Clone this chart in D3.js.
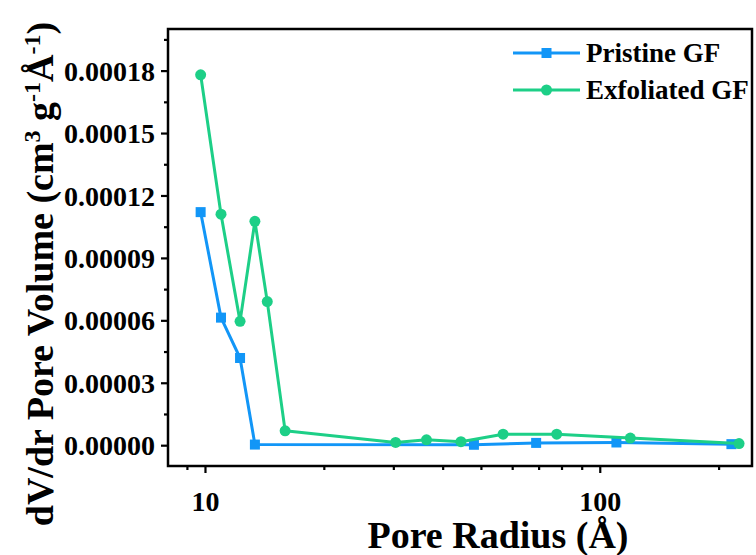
<!DOCTYPE html>
<html><head><meta charset="utf-8">
<script src="https://cdn.jsdelivr.net/npm/d3@7"></script>
<style>
html,body{margin:0;padding:0;background:#fff;}
svg{display:block;}
text{font-family:"Liberation Serif","Times New Roman",serif;font-weight:bold;fill:#000;}
</style></head>
<body>
<svg id="chart" width="756" height="555"></svg>
<script>
// Data
const pristineRadius = [9.75, 10.98, 12.27, 13.38, 48.0, 69.0, 110.2, 215.5];
const pristineValues = [0.000112, 0.0000613, 0.0000419, 0.0000003, 0.0000002, 0.0000011, 0.0000013, 0.0000005];
const exfoliatedRadius = [9.75, 10.98, 12.27, 13.38, 14.38, 15.96, 30.4, 36.4, 44.5, 56.9, 77.8, 119.5, 225.3];
const exfoliatedValues = [0.000178, 0.000111, 0.0000595, 0.0001076, 0.000069, 0.0000069, 0.0000013, 0.0000026, 0.0000017, 0.0000053, 0.0000053, 0.0000034, 0.0000008];
const yTickValues = [0, 0.00003, 0.00006, 0.00009, 0.00012, 0.00015, 0.00018];
const yMinorTicks = [0.000015, 0.000045, 0.000075, 0.000105, 0.000135, 0.000165, 0.000195];
const xTickValues = [10, 100];
const xMinorTicks = [9, 20, 30, 40, 50, 60, 70, 80, 90, 200];
const seriesNames = ["Pristine GF", "Exfoliated GF"];
const seriesColors = ["#1296f7", "#1dcf87"];

const svg = d3.select("#chart");
const L = 168, R = 752, T = 29, B = 466;

const x = d3.scaleLog().domain([8.06, 243]).range([L, R]);
const y = d3.scaleLinear().domain([-0.00001, 0.0002]).range([B, T]);

// frame
svg.append("rect").attr("x", L).attr("y", T).attr("width", R - L).attr("height", B - T)
  .attr("fill", "none").attr("stroke", "#000").attr("stroke-width", 2.5);

// y axis
const yAxis = d3.axisLeft(y).tickValues(yTickValues).tickFormat(d => d.toFixed(5)).tickSize(7).tickPadding(6);
const gy = svg.append("g").attr("transform", `translate(${L},0)`).call(yAxis);
gy.select(".domain").remove();
gy.selectAll(".tick line").attr("stroke-width", 2.2);
gy.selectAll(".tick text").style("font-size", "28px").attr("dy", "0.34em");
const gym = svg.append("g").attr("transform", `translate(${L},0)`)
  .call(d3.axisLeft(y).tickValues(yMinorTicks).tickSize(4).tickFormat(""));
gym.select(".domain").remove();
gym.selectAll(".tick line").attr("stroke-width", 2.2);

// x axis
const xAxis = d3.axisBottom(x).tickValues(xTickValues).tickFormat(d3.format("d")).tickSize(7).tickPadding(18);
const gx = svg.append("g").attr("transform", `translate(0,${B})`).call(xAxis);
gx.select(".domain").remove();
gx.selectAll(".tick line").attr("stroke-width", 2.2);
gx.selectAll(".tick text").style("font-size", "28px").attr("dy", "0.71em");
const gxm = svg.append("g").attr("transform", `translate(0,${B})`)
  .call(d3.axisBottom(x).tickValues(xMinorTicks).tickSize(4).tickFormat(""));
gxm.select(".domain").remove();
gxm.selectAll(".tick line").attr("stroke-width", 2.2);

// lines
const series = [
  {name: seriesNames[0], color: seriesColors[0], r: pristineRadius, v: pristineValues, shape: "square"},
  {name: seriesNames[1], color: seriesColors[1], r: exfoliatedRadius, v: exfoliatedValues, shape: "circle"}
];
const line = d3.line().x(d => x(d[0])).y(d => y(d[1]));
series.forEach(s => {
  const pts = s.r.map((r, i) => [r, s.v[i]]);
  svg.append("path").datum(pts).attr("d", line).attr("fill", "none")
    .attr("stroke", s.color).attr("stroke-width", 3).attr("stroke-linejoin", "round");
  if (s.shape === "square") {
    svg.selectAll(null).data(pts).enter().append("rect")
      .attr("x", d => x(d[0]) - 5).attr("y", d => y(d[1]) - 5)
      .attr("width", 10).attr("height", 10).attr("fill", s.color);
  } else {
    svg.selectAll(null).data(pts).enter().append("circle")
      .attr("cx", d => x(d[0])).attr("cy", d => y(d[1])).attr("r", 5.5).attr("fill", s.color);
  }
});

// legend
const lg = svg.append("g");
series.forEach((s, i) => {
  const ly = 53 + i * 37;
  lg.append("line").attr("x1", 513).attr("x2", 580).attr("y1", ly).attr("y2", ly)
    .attr("stroke", s.color).attr("stroke-width", 3);
  if (s.shape === "square") {
    lg.append("rect").attr("x", 546.5 - 5).attr("y", ly - 5).attr("width", 10).attr("height", 10).attr("fill", s.color);
  } else {
    lg.append("circle").attr("cx", 546.5).attr("cy", ly).attr("r", 5.5).attr("fill", s.color);
  }
  lg.append("text").attr("x", 586).attr("y", ly).attr("dy", "0.35em")
    .style("font-size", "27px").text(s.name);
});

// axis titles
svg.append("text").attr("x", 498).attr("y", 548).attr("text-anchor", "middle")
  .style("font-size", "38px").text("Pore Radius (Å)");

const yt = svg.append("text").attr("transform", "translate(53,274) rotate(-90)")
  .attr("text-anchor", "middle").style("font-size", "38px");
yt.append("tspan").text("dV/dr Pore Volume (cm");
yt.append("tspan").attr("dy", "-13").style("font-size", "24px").text("3");
yt.append("tspan").attr("dy", "13").text(" g");
yt.append("tspan").attr("dy", "-13").style("font-size", "24px").text("-1");
yt.append("tspan").attr("dy", "13").text("Å");
yt.append("tspan").attr("dy", "-13").style("font-size", "24px").text("-1");
yt.append("tspan").attr("dy", "13").text(")");
</script>
</body></html>
